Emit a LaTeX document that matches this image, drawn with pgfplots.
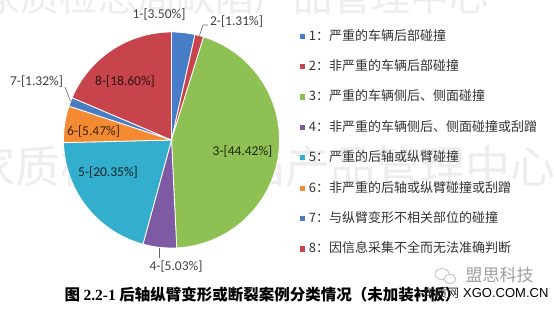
\documentclass[border=0pt]{standalone}
\usepackage{pgfplots}
\pgfplotsset{compat=1.18}
\usepackage{pgfplotstable}
\usepackage{fontspec}
\setmainfont{Carlito}
\newfontfamily\cjk{Noto Sans CJK SC}
\newfontfamily\lsans{Liberation Sans}
\newfontfamily\lserif{Liberation Serif}

\definecolor{pc0}{HTML}{467DC6}
\definecolor{pc1}{HTML}{C8444C}
\definecolor{pc2}{HTML}{8FC053}
\definecolor{pc3}{HTML}{7D5AA3}
\definecolor{pc4}{HTML}{33AECC}
\definecolor{pc5}{HTML}{F48B33}
\definecolor{pc6}{HTML}{4A7CC4}
\definecolor{pc7}{HTML}{C8444C}

\pgfplotstableread{
id pct
1 3.50
2 1.31
3 44.42
4 5.03
5 20.35
6 5.47
7 1.32
8 18.60
}\piedata

\def\cum{0}
\pgfplotsforeachungrouped \i in {0,...,7}{%
  \pgfplotstablegetelem{\i}{pct}\of\piedata
  \pgfmathsetmacro\angA{90-3.6*\cum}%
  \pgfmathsetmacro\cumB{\cum+\pgfplotsretval}%
  \pgfmathsetmacro\angB{90-3.6*\cumB}%
  \expandafter\xdef\csname angA\i\endcsname{\angA}%
  \expandafter\xdef\csname angB\i\endcsname{\angB}%
  \xdef\cum{\cumB}%
}

\newcommand\lab{\fontsize{13.5}{15}\selectfont}

\begin{document}
\begin{tikzpicture}
% faint background watermark
\node[font=\cjk\fontsize{39}{39}\selectfont, text=black!7] at (235pt,313pt) {家质检总局缺陷产品管理中心};
\node[font=\cjk\fontsize{45}{45}\selectfont, text=black!7] at (263pt,144pt) {家质检总局缺陷产品管理中心};
\begin{axis}[
  name=ax,
  at={(0pt,0pt)}, anchor=south west,
  width=554pt, height=310pt, scale only axis,
  xmin=0, xmax=554, ymin=0, ymax=310,
  enlargelimits=false,
  hide axis, clip=false,
  legend image code/.code={\fill[#1,draw=none] (0pt,-2.6pt) rectangle (5.2pt,2.6pt);},
  legend style={
    at={(axis cs:299.5,281)}, anchor=north west,
    draw=none, fill=none, inner sep=0pt,
    font=\cjk\fontsize{13}{15}\selectfont, text=black!80,
    row sep=16.4pt, column sep=4pt,
    nodes={inner sep=0pt, text height=11pt, text depth=3pt},
  },
  legend cell align=left,
]
\pgfplotsinvokeforeach{0,...,7}{%
  \edef\doslice{\noexpand\addplot[fill=pc#1, draw=white, line width=0.8pt, domain=\csname angB#1\endcsname:\csname angA#1\endcsname, samples=90] ({171.5+108*cos(x)},{170+108*sin(x)}) -- (axis cs:171.5,170) -- cycle;}%
  \doslice
}
\legend{1：严重的车辆后部碰撞,2：非严重的车辆后部碰撞,3：严重的车辆侧后、侧面碰撞,4：非严重的车辆侧后、侧面碰撞或刮蹭,5：严重的后轴或纵臂碰撞,6：非严重的后轴或纵臂碰撞或刮蹭,7：与纵臂变形不相关部位的碰撞,8：因信息采集不全而无法准确判断}

% leader lines
\addplot[black!60, line width=0.6pt, forget plot] coordinates {(199.4,274.5) (203,285) (208,285)};
\addplot[black!60, line width=0.6pt, forget plot] coordinates {(70.5,209) (65,223)};
\addplot[black!60, line width=0.6pt, forget plot] coordinates {(159.6,62) (159.6,52)};

% data labels
\node[font=\lab, text=black!75] at (axis cs:159,295) {1-[3.50\%]};
\node[font=\lab, text=black!75] at (axis cs:236.5,288) {2-[1.31\%]};
\node[font=\lab, text=black!80!pc2] at (axis cs:242.5,158) {3-[44.42\%]};
\node[font=\lab, text=black!75] at (axis cs:176,43) {4-[5.03\%]};
\node[font=\lab, text=black!80!pc4] at (axis cs:108,137) {5-[20.35\%]};
\node[font=\lab, text=black!75!pc5] at (axis cs:93.5,178) {6-[5.47\%]};
\node[font=\lab, text=black!75] at (axis cs:36.5,228) {7-[1.32\%]};
\node[font=\lab, text=black!75!pc1] at (axis cs:125,228) {8-[18.60\%]};

% caption
\node[anchor=west, font=\cjk\bfseries\fontsize{15.5}{17}\selectfont, text=black] at (axis cs:61,15) {图 {\lserif\bfseries 2.2-1} 后轴纵臂变形或断裂案例分类情况（未加装衬板）};
\end{axis}
% bottom-right watermark
\draw[black!28, line width=0.7pt] (442pt,36pt) ellipse (7pt and 5.5pt);
\draw[black!28, line width=0.7pt, fill=white] (450pt,31pt) ellipse (6pt and 4.5pt);
\node[anchor=west, font=\cjk\fontsize{17}{17}\selectfont, text=black!38] at (462pt,35pt) {盟思科技};
\node[anchor=west, inner sep=0pt, font=\cjk\fontsize{12}{12}\selectfont, text=black!85] at (423pt,17pt) {车质网};
\node[anchor=west, inner sep=0pt, font=\lsans\fontsize{13}{13}\selectfont, text=black] at (463pt,17pt) {XGO.COM.CN};
\pgfresetboundingbox
\path[use as bounding box] (0pt,0pt) rectangle (554pt,310pt);
\end{tikzpicture}
\end{document}
